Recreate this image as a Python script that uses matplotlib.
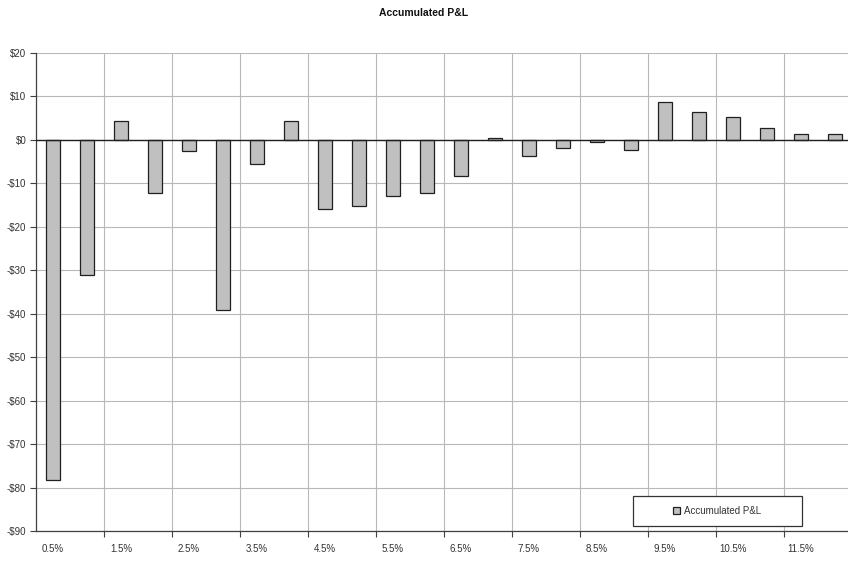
import matplotlib
matplotlib.use("Agg")
import matplotlib.pyplot as plt
from matplotlib.ticker import FixedLocator, FuncFormatter
from matplotlib.patches import Rectangle
import numpy as np

plt.rcParams['font.family'] = ['Liberation Sans', 'DejaVu Sans']

categories = ["0.5%", "1%", "1.5%", "2%", "2.5%", "3%", "3.5%", "4%", "4.5%", "5%",
              "5.5%", "6%", "6.5%", "7%", "7.5%", "8%", "8.5%", "9%", "9.5%", "10%",
              "10.5%", "11%", "11.5%", "12%"]
pnl = [-78.2, -31.0, 4.3, -12.3, -2.5, -39.1, -5.6, 4.3, -15.9, -15.1,
       -12.8, -12.3, -8.3, 0.5, -3.7, -1.9, -0.4, -2.3, 8.7, 6.4,
       5.2, 2.8, 1.4, 1.4]
y_ticks = list(range(-90, 21, 10))

W, H = 848, 564
fig = plt.figure(figsize=(W / 100, H / 100), dpi=100)
ax = fig.add_axes([36 / W, 1 - 531 / H, 816 / W, (531 - 53) / H])

x = np.arange(len(categories))
ax.bar(x, pnl, width=0.42, color="#c0c0c0", edgecolor="#202020", linewidth=0.9,
       label="Accumulated P&L", zorder=3)

ax.set_xlim(-0.5, len(categories) - 0.5)
ax.set_ylim(-90, 20)

# y axis
ax.yaxis.set_major_locator(FixedLocator(y_ticks))
ax.yaxis.set_major_formatter(FuncFormatter(lambda v, p: f"${v:.0f}" if v >= 0 else f"-${-v:.0f}"))
ax.tick_params(axis="y", direction="out", length=4, width=0.8, color="#404040",
               labelsize=7, labelcolor="#333333", pad=3)

# x axis: gridlines/ticks at every other boundary, labels every other category
bounds = np.arange(1.5, len(categories), 2)
ax.xaxis.set_major_locator(FixedLocator(bounds))
ax.xaxis.set_major_formatter(FuncFormatter(lambda v, p: ""))
ax.xaxis.set_minor_locator(FixedLocator(x[::2]))
ax.xaxis.set_minor_formatter(FuncFormatter(lambda v, p: categories[int(round(v))]))
ax.tick_params(axis="x", which="major", direction="out", length=4, width=0.8, color="#404040")
ax.tick_params(axis="x", which="minor", length=0, labelsize=7, labelcolor="#333333", pad=9)

ax.grid(True, which="major", axis="both", color="#b8b8b8", linewidth=0.8, zorder=0)
ax.axhline(0, color="#202020", linewidth=1.0, zorder=4)

for s in ["top", "right"]:
    ax.spines[s].set_visible(False)
for s in ["left", "bottom"]:
    ax.spines[s].set_color("#404040")
    ax.spines[s].set_linewidth(0.9)

fig.text(0.5, 1 - 13 / H, "Accumulated P&L", ha="center", va="center",
         fontsize=7.5, fontweight="bold", color="#111111")

# legend box (frame drawn as a rectangle to match its wider shape)
ax.add_patch(Rectangle((633 / W, 1 - 526 / H), 169 / W, 30 / H,
                       transform=fig.transFigure, facecolor="white",
                       edgecolor="#333333", linewidth=0.9, zorder=5, clip_on=False))
leg = ax.legend(loc="center", bbox_to_anchor=(717 / W, 1 - 511 / H),
                bbox_transform=fig.transFigure, fontsize=7, frameon=False,
                handlelength=0.7, handleheight=0.7, handletextpad=0.4,
                borderpad=0.5, borderaxespad=0)
leg.set_zorder(6)
for t in leg.get_texts():
    t.set_color("#333333")

fig.savefig("out.png", dpi=100)
